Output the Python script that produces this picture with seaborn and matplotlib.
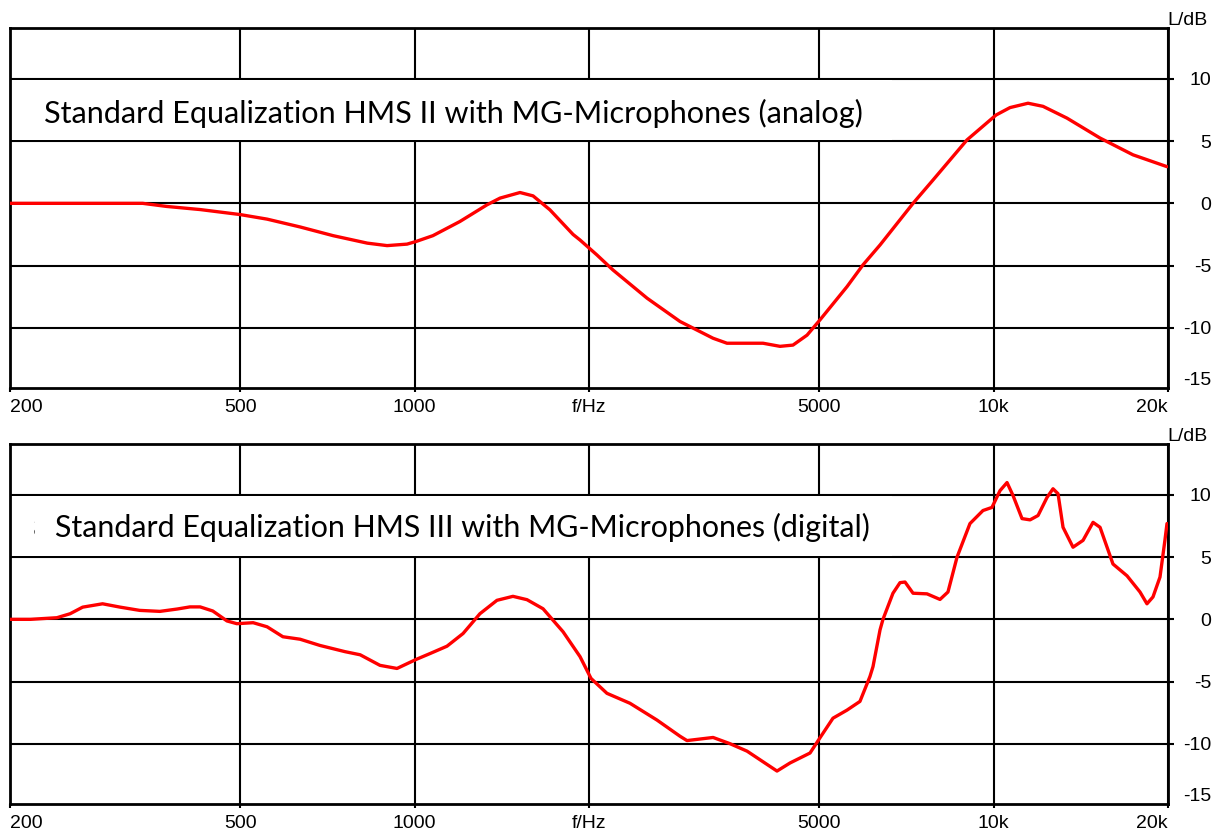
import numpy as np
import pandas as pd
import matplotlib
matplotlib.use("Agg")
import matplotlib.pyplot as plt
import seaborn as sns
from matplotlib.patches import Rectangle
from matplotlib.ticker import NullLocator, FixedLocator
import matplotlib.transforms as mtransforms

# ---------------- data ----------------
freq_analog = [200, 339, 373, 426, 499, 556, 634, 723, 828, 896, 970, 1005, 1075,
               1197, 1333, 1404, 1520, 1601, 1712, 1877, 1930, 2064, 2200, 2520,
               2872, 3276, 3462, 3996, 4275, 4501, 4760, 5012, 5580, 5946, 6363,
               7256, 7854, 8992, 10092, 10670, 11463, 12167, 13386, 15264, 17403, 19920]
level_analog = [0.0, 0.0, -0.25, -0.5, -0.9, -1.27, -1.9, -2.6, -3.2, -3.4, -3.28, -3.07, -2.6,
                -1.46, -0.12, 0.42, 0.87, 0.6, -0.52, -2.5, -2.95, -4.15, -5.36, -7.63,
                -9.5, -10.85, -11.25, -11.25, -11.5, -11.4, -10.6, -9.37, -6.7, -4.95, -3.35,
                0.0, 1.87, 5.1, 7.1, 7.7, 8.05, 7.8, 6.85, 5.25, 3.9, 2.95]

freq_digital = [200, 217, 241, 254, 267, 289, 310, 335, 363, 389, 409, 426, 448, 474,
                493, 526, 556, 592, 634, 686, 758, 805, 871, 932, 1005, 1063, 1137,
                1212, 1296, 1387, 1478, 1563, 1666, 1804, 1930, 2016, 2148, 2354,
                2621, 2872, 2953, 3276, 3504, 3750, 4224, 4449, 4817, 5032, 5277,
                5580, 5875, 6113, 6188, 6363, 6438, 6699, 6889, 7028, 7256, 7670,
                8077, 8337, 8643, 9099, 9582, 9931, 10254, 10544, 10800, 11192,
                11556, 11929, 12361, 12660, 12915, 13175, 13708, 14265, 14845, 15264,
                16069, 16993, 17891, 18394, 18840, 19373, 19762, 19920]
level_digital = [0.0, 0.0, 0.13, 0.45, 0.98, 1.25, 0.98, 0.72, 0.64, 0.83, 1.0, 1.0, 0.67, -0.13,
                 -0.35, -0.27, -0.6, -1.4, -1.6, -2.1, -2.6, -2.85, -3.7, -3.95, -3.23, -2.75, -2.16,
                 -1.14, 0.45, 1.53, 1.85, 1.58, 0.85, -1.0, -3.0, -4.75, -5.95, -6.75,
                 -8.1, -9.4, -9.75, -9.5, -10.0, -10.6, -12.2, -11.55, -10.75, -9.4, -7.95,
                 -7.3, -6.6, -4.6, -3.8, -0.85, 0.0, 2.1, 2.95, 3.0, 2.1, 2.05,
                 1.6, 2.2, 5.0, 7.7, 8.75, 9.0, 10.35, 11.0, 9.95, 8.1,
                 8.0, 8.35, 9.8, 10.5, 10.1, 7.4, 5.8, 6.35, 7.8, 7.4,
                 4.45, 3.5, 2.2, 1.25, 1.8, 3.4, 6.4, 7.7]

title_analog = "Standard Equalization HMS II with MG-Microphones (analog)"
title_digital = "Standard Equalization HMS III with MG-Microphones (digital)"

x_ticks = [200, 500, 1000, 2000, 5000, 10000, 20000]
x_labels = ["200", "500", "1000", "f/Hz", "5000", "10k", "20k"]
y_ticks = [10, 5, 0, -5, -10]
y_labels = ["10", "5", "0", "-5", "-10"]
y_unit = "L/dB"
y_bottom_label = "-15"

df_a = pd.DataFrame({"f": freq_analog, "L": level_analog})
df_d = pd.DataFrame({"f": freq_digital, "L": level_digital})

# ---------------- style ----------------
sns.set_theme(style="white")
plt.rcParams['font.family'] = ['Liberation Sans', 'DejaVu Sans']

W, H = 1222, 832
fig = plt.figure(figsize=(W / 100, H / 100), dpi=100)
fig.patch.set_facecolor("white")


def make_axes(top_px):
    return fig.add_axes([10 / W, 1 - (top_px + 360) / H, 1158 / W, 360 / H])


ax1 = make_axes(28)
ax2 = make_axes(444)

for ax, df in ((ax1, df_a), (ax2, df_d)):
    sns.lineplot(data=df, x="f", y="L", ax=ax, color="#ff0000", lw=2.4,
                 estimator=None, sort=False, legend=False, zorder=3)
    ax.set_xscale("log")
    ax.set_xlim(200, 20000)
    ax.set_ylim(-14.85, 14.1)
    ax.xaxis.set_major_locator(FixedLocator(x_ticks))
    ax.xaxis.set_minor_locator(NullLocator())
    ax.set_xticklabels(x_labels)
    ax.yaxis.set_major_locator(FixedLocator(y_ticks))
    ax.yaxis.set_minor_locator(NullLocator())
    ax.set_yticklabels(y_labels)
    ax.yaxis.tick_right()
    ax.set_xlabel("")
    ax.set_ylabel("")
    ax.grid(True, color="black", lw=1.5)
    ax.set_axisbelow(True)
    for s in ax.spines.values():
        s.set_color("black")
        s.set_linewidth(2.0)
    ax.tick_params(axis="y", direction="out", length=4, width=1.5, colors="black",
                   labelsize=14, pad=27, right=True, left=False)
    for t in ax.get_yticklabels():
        t.set_ha("right")
    ax.tick_params(axis="x", direction="out", length=3, width=1.5, colors="black",
                   labelsize=14, pad=5, bottom=True)
    xl = ax.get_xticklabels()
    xl[0].set_ha("left")
    xl[-1].set_ha("right")
    # white label band
    tr = mtransforms.blended_transform_factory(ax.transAxes, ax.transData)
    ax.add_patch(Rectangle((0.002, 5.12), 0.76, 4.76, transform=tr,
                           facecolor="white", edgecolor="none", zorder=1.5))

# titles (Futura-like)
renderer = fig.canvas.get_renderer()


def fit_text(ax, x_px, base_db, s, target_w):
    t = ax.text((x_px - 10) / 1158, base_db, s,
                transform=mtransforms.blended_transform_factory(ax.transAxes, ax.transData),
                family=["Lato", "DejaVu Sans"], fontweight="normal", fontsize=22,
                va="baseline", ha="left", color="black", zorder=4)
    w = t.get_window_extent(renderer).width
    t.set_fontsize(22 * target_w / w)
    return t


fit_text(ax1, 44, 6.45, title_analog, 816)
fit_text(ax2, 55, 6.6, title_digital, 813)

# clipped stray glyph in lower panel
s_txt = ax2.text((22 - 10) / 1158, 6.6, "s",
                 transform=mtransforms.blended_transform_factory(ax2.transAxes, ax2.transData),
                 family=["Lato", "DejaVu Sans"], fontweight="normal", fontsize=23,
                 va="baseline", ha="left", color="black", zorder=4)
clip = mtransforms.Bbox([[34, H - 540], [36.5, H - 512]])
s_txt.set_clip_box(clip)
s_txt.set_clip_on(True)

# unit labels and -15 labels
for top in (0, 416):
    fig.text(1167 / W, 1 - (25 + top) / H, y_unit, fontsize=14, ha="left",
             va="baseline", color="black")
    fig.text(1211 / W, 1 - (385 + top) / H, y_bottom_label, fontsize=14, ha="right",
             va="baseline", color="black")

fig.savefig("out.png", dpi=100, facecolor="white")
